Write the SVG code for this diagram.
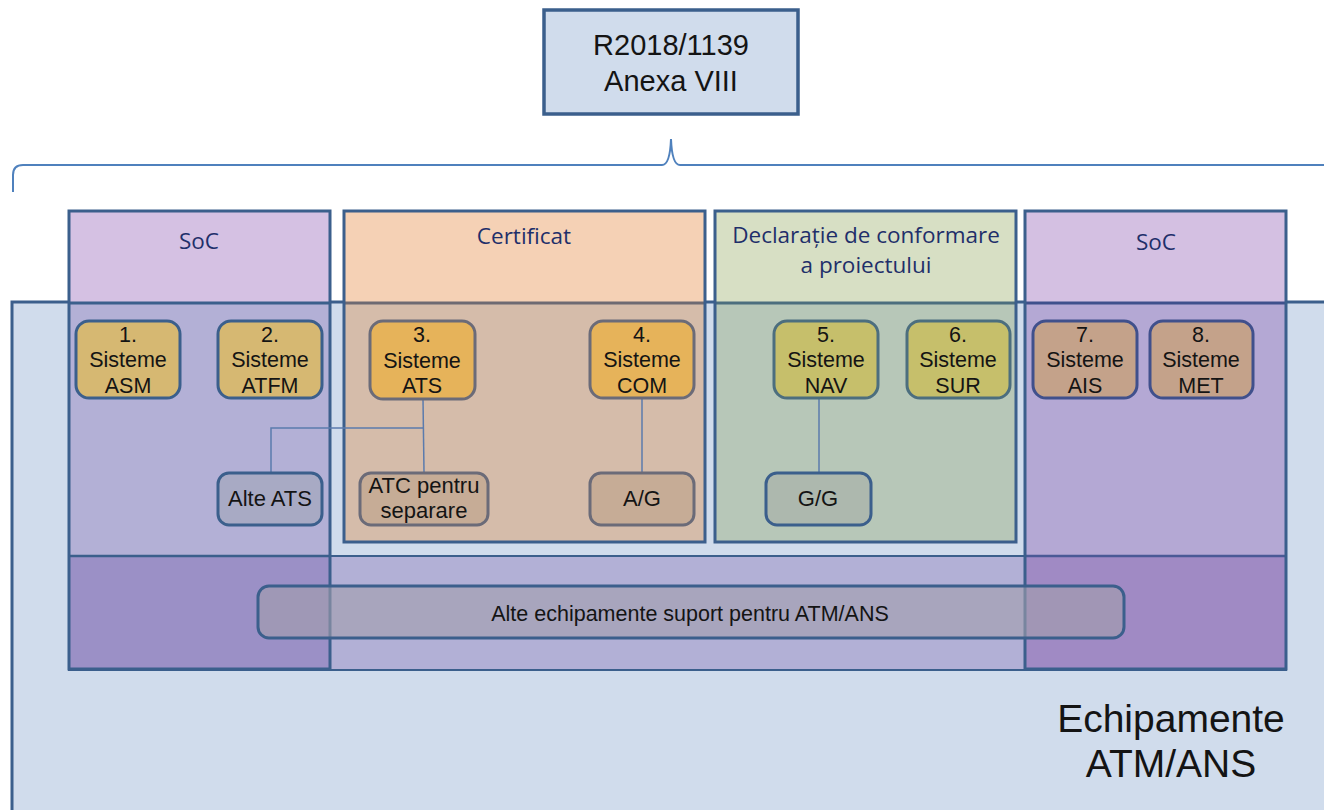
<svg xmlns="http://www.w3.org/2000/svg" width="1324" height="810" viewBox="0 0 1324 810">
<style>
.t{font-family:"Liberation Sans",Arial,sans-serif;fill:#141414;text-anchor:middle}
.n{font-size:21.5px}
.h{font-family:"Open Sans","Noto Sans",sans-serif;font-size:22.5px;fill:#1f2f6a;text-anchor:middle}
.edge{stroke:#3b5f8c;fill:none}
.nd{stroke-width:3}
.c{stroke:#5b7bad;stroke-width:1.5;fill:none}
</style>
<rect width="1324" height="810" fill="#ffffff"/>
<g id="top">
<rect x="544" y="10" width="254" height="104" fill="#d0dcec" stroke="#3b5f8c" stroke-width="3.5"/>
<text class="t" x="671" y="55" font-size="29">R2018/1139</text>
<text class="t" x="671" y="91" font-size="29">Anexa VIII</text>
</g>
<g id="brace">
<path d="M13,192 L13,175 Q13,165 23,165 L662,165 Q670,165 671,139 Q672,165 680,165 L1330,165" fill="none" stroke="#4f81bd" stroke-width="2"/>
</g>
<g id="background">
<rect x="12" y="302" width="1330" height="520" fill="#d0dcec" stroke="#3b5f8c" stroke-width="3"/>
<text class="t" x="1171" y="732" font-size="39">Echipamente</text>
<text class="t" x="1171" y="777" font-size="39">ATM/ANS</text>
</g>
<g id="band">
<rect x="69" y="556" width="1217" height="114" fill="#b2b0d6" stroke="#3b5f8c" stroke-width="2"/>
</g>
<g id="soc-left">
<rect x="69" y="211" width="261" height="91" fill="#d5c1e3"/>
<rect x="69" y="302" width="261" height="254" fill="#b3b0d6"/>
<rect x="69" y="556" width="261" height="113" fill="#9b90c6"/>
<line x1="69" y1="303" x2="330" y2="303" stroke="#3b5f8c" stroke-width="3"/>
<line x1="69" y1="556" x2="330" y2="556" stroke="#3b5f8c" stroke-width="2.5"/>
<rect x="69" y="211" width="261" height="458" class="edge" stroke-width="3"/>
<text class="h" x="199" y="249">SoC</text>
</g>
<g id="certificat">
<rect x="344" y="211" width="361" height="91" fill="#f5d1b5"/>
<rect x="344" y="302" width="361" height="240" fill="#d5bcaa"/>
<line x1="344" y1="303" x2="705" y2="303" stroke="#6e6a72" stroke-width="3"/>
<rect x="344" y="211" width="361" height="331" class="edge" stroke-width="3"/>
<text class="h" x="524" y="244">Certificat</text>
</g>
<g id="declaratie">
<rect x="715" y="211" width="301" height="91" fill="#d7dfc4"/>
<rect x="715" y="302" width="301" height="240" fill="#b7c7b8"/>
<line x1="715" y1="303" x2="1016" y2="303" stroke="#4c6e7e" stroke-width="3"/>
<rect x="715" y="211" width="301" height="331" class="edge" stroke-width="3"/>
<text class="h" x="866" y="243">Declarație de conformare</text>
<text class="h" x="866" y="273">a proiectului</text>
</g>
<g id="soc-right">
<rect x="1025" y="211" width="261" height="91" fill="#d4c0e2"/>
<rect x="1025" y="302" width="261" height="254" fill="#b4a8d4"/>
<rect x="1025" y="556" width="261" height="113" fill="#a08ac4"/>
<line x1="1025" y1="303" x2="1286" y2="303" stroke="#3f508c" stroke-width="3"/>
<line x1="1025" y1="556" x2="1286" y2="556" stroke="#4a5a96" stroke-width="2.5"/>
<rect x="1025" y="211" width="261" height="458" class="edge" stroke-width="3"/>
<text class="h" x="1156" y="250">SoC</text>
</g>
<g id="connectors">
<path class="c" d="M423,399 L424,472"/>
<path class="c" d="M423,428 L271,428 L271,472"/>
<path class="c" d="M642,398 L642,472"/>
<path class="c" d="M819,398 L819,472"/>
</g>
<g id="n1">
<rect x="76" y="321" width="104" height="77" rx="13" fill="#d6b872" stroke="#3b5f8c" class="nd"/>
<text class="t n" x="128" y="342">1.</text><text class="t n" x="128" y="367">Sisteme</text><text class="t n" x="128" y="393">ASM</text>
</g>
<g id="n2">
<rect x="218" y="321" width="104" height="77" rx="13" fill="#d6b872" stroke="#3b5f8c" class="nd"/>
<text class="t n" x="270" y="342">2.</text><text class="t n" x="270" y="367">Sisteme</text><text class="t n" x="270" y="393">ATFM</text>
</g>
<g id="n3">
<rect x="370" y="321" width="105" height="78" rx="13" fill="#e6b35a" stroke="#6b6b78" class="nd"/>
<text class="t n" x="422" y="342">3.</text><text class="t n" x="422" y="368">Sisteme</text><text class="t n" x="422" y="393">ATS</text>
</g>
<g id="n4">
<rect x="590" y="321" width="104" height="77" rx="13" fill="#e6b35a" stroke="#6b6b78" class="nd"/>
<text class="t n" x="642" y="342">4.</text><text class="t n" x="642" y="367">Sisteme</text><text class="t n" x="642" y="393">COM</text>
</g>
<g id="n5">
<rect x="774" y="321" width="104" height="77" rx="13" fill="#c6bf6b" stroke="#4c6e7e" class="nd"/>
<text class="t n" x="826" y="342">5.</text><text class="t n" x="826" y="367">Sisteme</text><text class="t n" x="826" y="393">NAV</text>
</g>
<g id="n6">
<rect x="907" y="321" width="103" height="77" rx="13" fill="#c6bf6b" stroke="#4c6e7e" class="nd"/>
<text class="t n" x="958" y="342">6.</text><text class="t n" x="958" y="367">Sisteme</text><text class="t n" x="958" y="393">SUR</text>
</g>
<g id="n7">
<rect x="1033" y="321" width="104" height="77" rx="13" fill="#c4a28a" stroke="#40508c" class="nd"/>
<text class="t n" x="1085" y="342">7.</text><text class="t n" x="1085" y="367">Sisteme</text><text class="t n" x="1085" y="393">AIS</text>
</g>
<g id="n8">
<rect x="1150" y="321" width="103" height="77" rx="13" fill="#c4a28a" stroke="#40508c" class="nd"/>
<text class="t n" x="1201" y="342">8.</text><text class="t n" x="1201" y="367">Sisteme</text><text class="t n" x="1201" y="393">MET</text>
</g>
<g id="alte-ats">
<rect x="218" y="473" width="104" height="52" rx="11" fill="#a8aac4" stroke="#3b5f8c" class="nd"/>
<text class="t" x="270" y="506" font-size="22">Alte ATS</text>
</g>
<g id="atc">
<rect x="360" y="473" width="128" height="52" rx="11" fill="#c6ac96" stroke="#6b6b78" class="nd"/>
<text class="t" x="424" y="493" font-size="22" fill="#2a1a10">ATC pentru</text>
<text class="t" x="424" y="518" font-size="22">separare</text>
</g>
<g id="ag">
<rect x="590" y="473" width="104" height="52" rx="11" fill="#c6ac96" stroke="#6b6b78" class="nd"/>
<text class="t" x="642" y="506" font-size="22">A/G</text>
</g>
<g id="gg">
<rect x="766" y="473" width="105" height="52" rx="11" fill="#adb8ae" stroke="#3b5f8c" class="nd"/>
<text class="t" x="818" y="506" font-size="22">G/G</text>
</g>
<g id="alte-echipamente">
<rect x="258" y="586" width="866" height="52" rx="11" fill="#a29eac" fill-opacity="0.6" stroke="#3b5f8c" class="nd"/>
<text class="t" x="690" y="621" font-size="21.5">Alte echipamente suport pentru ATM/ANS</text>
</g>
</svg>
